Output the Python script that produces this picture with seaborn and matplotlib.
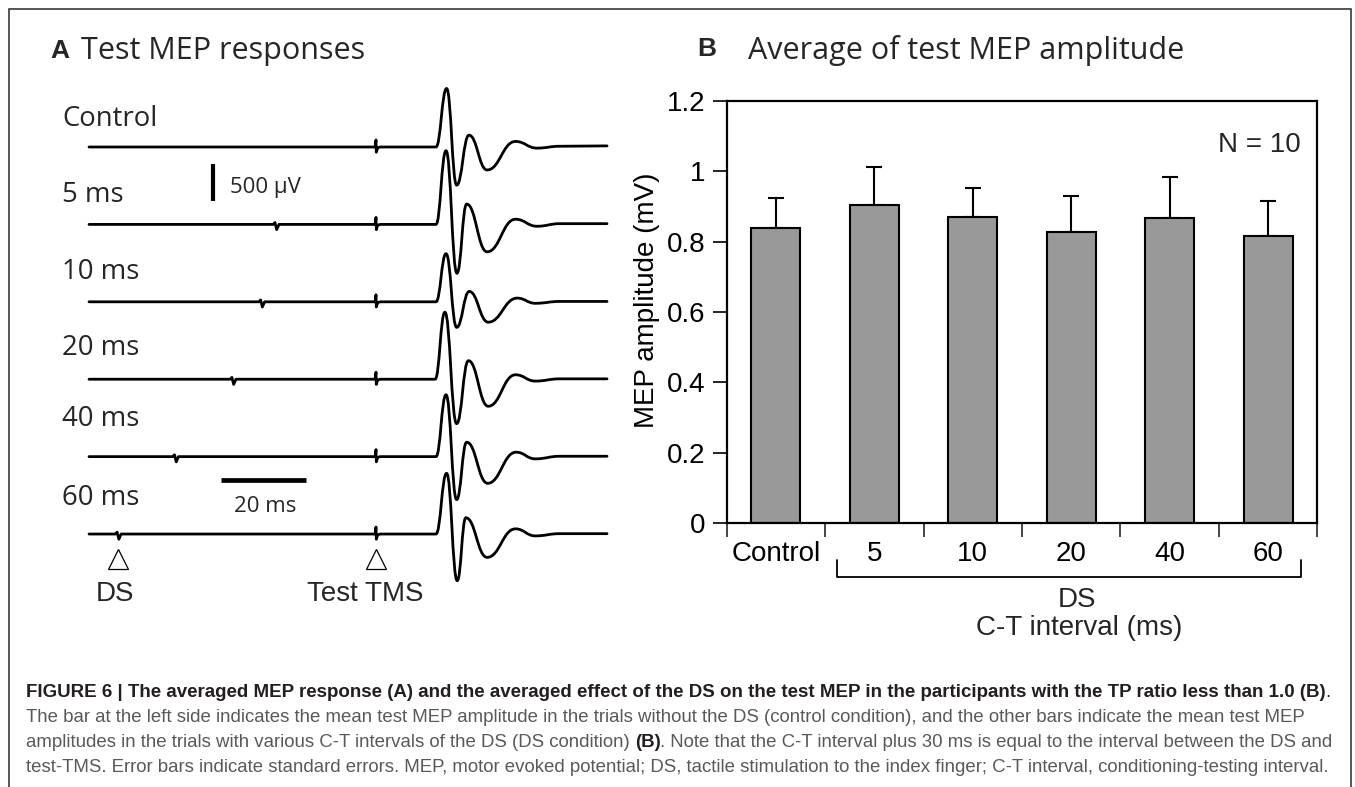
import matplotlib
matplotlib.use("Agg")
import matplotlib.pyplot as plt
from matplotlib.path import Path
from matplotlib.patches import PathPatch, Rectangle
import numpy as np
import pandas as pd
import seaborn as sns

# ---------------- data ----------------
# Panel A: averaged MEP traces
trace_labels = ["Control", "5 ms", "10 ms", "20 ms", "40 ms", "60 ms"]
ct_intervals = [None, 5, 10, 20, 40, 60]        # ms (DS precedes test TMS by C-T + 30 ms)
ds_extra = 30                                    # ms
sweep = [-100.0, 80.5]                           # ms relative to test TMS
trace_spacing = 1045                             # µV between stacked traces
# MEP landmarks: onset, P1, N1, P2, N2, P3, dip, recovery, end  (ms after TMS)
mep_times = [
    [20.9, 24.6, 28.1, 32.4, 38.7, 48.6, 56.1, 64.0, 80.5],
    [20.9, 24.4, 28.2, 31.6, 38.7, 48.6, 56.1, 64.0, 80.5],
    [20.9, 24.4, 28.1, 32.5, 39.1, 49.2, 55.5, 64.0, 80.5],
    [20.6, 24.0, 28.1, 32.2, 39.1, 48.6, 55.5, 64.0, 80.5],
    [20.9, 24.4, 28.1, 31.6, 38.9, 48.8, 55.5, 64.0, 80.5],
    [20.9, 24.6, 28.3, 31.3, 38.7, 48.6, 55.5, 64.0, 80.5],
]
# amplitudes at those landmarks (µV)
mep_amps = [
    [0, 790, -515, 160, -310, 75, -15, 10, 15],
    [0, 995, -660, 275, -370, 70, -25, 10, 10],
    [0, 650, -345, 140, -275, 50, -20, 5, 5],
    [0, 905, -600, 250, -365, 60, -25, 5, 5],
    [0, 835, -580, 195, -360, 60, -30, 5, 5],
    [0, 820, -630, 220, -315, 70, -25, 5, 5],
]
# stimulus artefacts (ms relative to stimulus, µV)
ds_art_t = [-0.8, -0.2, 0.4, 1.2]
ds_art_uv = [0, 25, -70, 0]
tms_art_t = [-0.3, 0.0, 0.1, 0.6, 1.5]
tms_art_uv = [0, 95, -70, -10, 0]

# Panel B: bar chart
bar_categories = ["Control", "5", "10", "20", "40", "60"]
bar_means = [0.838, 0.903, 0.869, 0.828, 0.867, 0.816]
bar_se = [0.086, 0.110, 0.084, 0.102, 0.116, 0.099]
ytick_vals = [0, 0.2, 0.4, 0.6, 0.8, 1.0, 1.2]
ytick_labels = ["0", "0.2", "0.4", "0.6", "0.8", "1", "1.2"]

caption_bold1 = ("FIGURE 6 | The averaged MEP response (A) and the averaged effect of the DS on the "
                 "test MEP in the participants with the TP ratio less than 1.0 (B)")
caption_l2 = ("The bar at the left side indicates the mean test MEP amplitude in the trials without "
              "the DS (control condition), and the other bars indicate the mean test MEP")
caption_l3a = "amplitudes in the trials with various C-T intervals of the DS (DS condition)"
caption_l3b = ("Note that the C-T interval plus 30 ms is equal to the interval between the DS and")
caption_l4 = ("test-TMS. Error bars indicate standard errors. MEP, motor evoked potential; DS, tactile "
              "stimulation to the index finger; C-T interval, conditioning-testing interval.")

# ---------------- figure ----------------
sns.set_theme(style="ticks")
plt.rcParams["font.family"] = ["Liberation Sans", "DejaVu Sans"]
W, H = 1355, 787
fig = plt.figure(figsize=(W / 100, H / 100), dpi=100, facecolor="white")

def fx(x):
    return x / W

def fy(y):
    return 1 - y / H

def ftext(x, y, s, **kw):
    kw.setdefault("va", "baseline")
    return fig.text(fx(x), fy(y), s, **kw)

# outer frame
fig.add_artist(Rectangle((fx(9), fy(800)), fx(1351) - fx(9), fy(9) - fy(800),
                         transform=fig.transFigure, fill=False, edgecolor="#3a3a3a", lw=1.2))

# ---------------- panel A ----------------
px_per_ms = 2.87
uv_per_px = 13.5
tms_px, base_px = 376, 147
axA = fig.add_axes([fx(40), fy(620), fx(650) - fx(40), fy(70) - fy(620)])
axA.set_xlim((40 - tms_px) / px_per_ms, (650 - tms_px) / px_per_ms)
axA.set_ylim((base_px - 620) * uv_per_px, (base_px - 70) * uv_per_px)
axA.axis("off")

def trace_path(k):
    off = -k * trace_spacing
    verts = [(sweep[0], off)]
    codes = [Path.MOVETO]
    ct = ct_intervals[k]
    if ct is not None:
        t_ds = -(ct + ds_extra)
        for dt, uv in zip(ds_art_t, ds_art_uv):
            verts.append((t_ds + dt, off + uv)); codes.append(Path.LINETO)
    for dt, uv in zip(tms_art_t, tms_art_uv):
        verts.append((dt, off + uv)); codes.append(Path.LINETO)
    ts, amps = mep_times[k], mep_amps[k]
    verts.append((ts[0], off + amps[0])); codes.append(Path.LINETO)
    for i in range(1, len(ts)):
        t0, a0, t1, a1 = ts[i - 1], amps[i - 1], ts[i], amps[i]
        d = 0.45 * (t1 - t0)
        verts += [(t0 + d, off + a0), (t1 - d, off + a1), (t1, off + a1)]
        codes += [Path.CURVE4] * 3
    return Path(verts, codes)

for k in range(len(trace_labels)):
    axA.add_patch(PathPatch(trace_path(k), fill=False, edgecolor="black", lw=2.0,
                            capstyle="round", joinstyle="round"))

# scale bars
sb_x = (213.5 - tms_px) / px_per_ms
sb_top = (base_px - 164) * uv_per_px
axA.plot([sb_x, sb_x], [sb_top, sb_top - 500], color="black", lw=3.0, solid_capstyle="butt")
hb_y = (base_px - 480.4) * uv_per_px
axA.plot([(220.6 - tms_px) / px_per_ms, (220.6 - tms_px) / px_per_ms + 29.6], [hb_y, hb_y],
         color="black", lw=3.4, solid_capstyle="butt")

# stimulus markers
tri_y = (base_px - 558.5) * uv_per_px
axA.plot([-(ct_intervals[-1] + ds_extra), 0], [tri_y, tri_y], linestyle="none", marker="^",
         markersize=15, markerfacecolor="white", markeredgecolor="black", markeredgewidth=0.9)

label_font = ["Open Sans", "DejaVu Sans"]
ftext(50, 58.5, "A", fontsize=19, fontweight="bold", family=["Liberation Sans"])
ftext(81, 59.3, "Test MEP responses", fontsize=22, family=label_font)
label_baselines = [125.7, 201.7, 278.8, 355.0, 426.0, 505.0]
for lab, yb in zip(trace_labels, label_baselines):
    ftext(62, yb, lab, fontsize=19.8, family=label_font)
ftext(230, 192.5, "500 µV", fontsize=16, family=label_font)
ftext(265, 512, "20 ms", fontsize=16, family=label_font, ha="center")
ftext(115, 600.7, "DS", fontsize=20, ha="center")
ftext(365, 600.7, "Test TMS", fontsize=20, ha="center")

# ---------------- panel B ----------------
axB = fig.add_axes([fx(726.6), fy(523.2), fx(1317.4) - fx(726.6), fy(100.7) - fy(523.2)])
df = pd.DataFrame({"cond": bar_categories, "amp": bar_means, "se": bar_se})
sns.barplot(data=df, x="cond", y="amp", order=bar_categories, color="#999999", saturation=1,
            edgecolor="black", linewidth=1.5, width=0.5, errorbar=None, ax=axB, zorder=2)
axB.errorbar(np.arange(len(bar_categories)), df["amp"], yerr=[np.zeros(len(df)), df["se"]],
             fmt="none", ecolor="black", elinewidth=1.5, capsize=6, capthick=1.5, zorder=1)
axB.set_xlim(-0.5, len(bar_categories) - 0.5)
axB.set_ylim(0, 1.2)
axB.set_yticks(ytick_vals)
axB.set_yticklabels(ytick_labels)
axB.set_xticks(np.arange(len(bar_categories)))
axB.set_xticklabels(bar_categories)
axB.set_xticks(np.arange(-0.5, len(bar_categories), 1.0), minor=True)
axB.tick_params(axis="y", direction="out", length=10, width=1.2, labelsize=20, pad=5, colors="black")
axB.tick_params(axis="x", which="major", length=0, labelsize=20, pad=13, colors="black")
axB.tick_params(axis="x", which="minor", direction="out", length=10, width=1.2)
for sp in axB.spines.values():
    sp.set_visible(True)
    sp.set_linewidth(1.6)
    sp.set_color("black")
axB.set_xlabel("")
axB.set_ylabel("MEP amplitude (mV)", fontsize=20, color="black")
axB.yaxis.set_label_coords((660 - 726.6) / 590.8, (523.2 - 300.5) / 422.5)
axB.set_facecolor("white")

# bracket below DS conditions
br_y = (523.2 - 577) / 422.5
br_top = (523.2 - 559.5) / 422.5
bx0, bx1 = 0.625, 5.338
axB.plot([bx0, bx0, bx1, bx1], [br_top, br_y, br_y, br_top], color="black", lw=1.3,
         transform=axB.get_xaxis_transform(), clip_on=False)

ftext(697, 56, "B", fontsize=19, fontweight="bold")
ftext(748, 59, "Average of test MEP amplitude", fontsize=22, family=label_font)
ftext(1300.5, 151.7, "N = 10", fontsize=20, ha="right")
ftext(1076.6, 606.8, "DS", fontsize=20, ha="center")
ftext(1079, 635, "C-T interval (ms)", fontsize=20, ha="center")

# ---------------- caption ----------------
axC = fig.add_axes([0, 0, 1, 1], facecolor="none")
axC.axis("off")
cap_fs = 13.4
dark, grey = "#231f20", "#58595b"
t1 = ftext(26, 697, caption_bold1, fontsize=cap_fs + 0.1, fontweight="bold", color=dark)
axC.annotate(".", xy=(1, 0), xycoords=t1, ha="left", va="bottom", fontsize=cap_fs, color=dark)
ftext(26, 722, caption_l2, fontsize=cap_fs, color=grey)
t3 = ftext(26, 747, caption_l3a, fontsize=cap_fs, color=grey)
t3b = axC.annotate("(B)", xy=(1, 0), xycoords=t3, xytext=(5, 0), textcoords="offset pixels",
                   ha="left", va="bottom", fontsize=cap_fs, fontweight="bold", color=dark)
axC.annotate(". " + caption_l3b, xy=(1, 0), xycoords=t3b, ha="left", va="bottom",
             fontsize=cap_fs, color=grey)
ftext(26, 772, caption_l4, fontsize=cap_fs, color=grey)

fig.savefig("out.png", dpi=100, facecolor="white")
